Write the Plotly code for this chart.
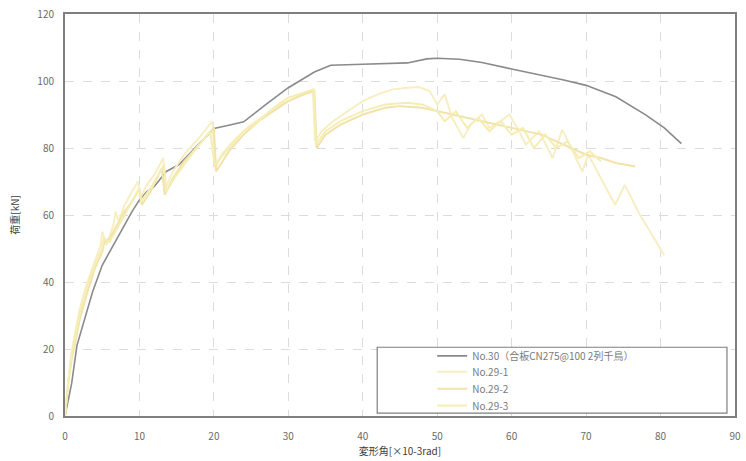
import plotly.graph_objects as go

# ---- data ----
x_no30 = [0, 0.9, 1.6, 2.6, 3.7, 5.0, 6.0, 6.7, 8.0, 9.0, 10.0, 11.0, 12.0, 13.6, 15.3, 17.0, 20.0, 22.0, 24.0,
          27.0, 30.0, 33.5, 35.7, 40.0, 46.0, 48.6, 50.0, 53.0, 56.0, 60.0, 64.0, 67.0, 70.0, 74.0, 78.0, 80.5, 82.8]
y_no30 = [0, 9.8, 21, 29, 37, 45, 49, 52, 57, 61, 64.5, 67, 68.5, 73, 75, 79, 85.8, 86.8, 87.8,
          93, 98, 102.7, 104.7, 105.0, 105.4, 106.6, 106.8, 106.5, 105.5, 103.6, 101.8, 100.3, 98.7, 95.3, 89.9, 86.0, 81.3]

x_29_1 = [0, 0.3, 0.7, 1.2, 2, 3, 4, 4.8, 5.0, 5.6, 6.5, 6.8, 7.2, 8, 9, 9.8, 10.1, 11, 12, 13.2, 13.5, 14.5, 16, 18,
          19.8, 20.2, 21, 23, 25, 27, 29, 31, 33.3, 33.6, 34.5, 36, 38, 40, 42, 44, 46, 47.5, 49, 50, 51, 52, 53.5,
          54.5, 56, 57, 58.5, 59.7, 61, 61.9, 63.7, 65.5, 66.8, 68, 69.5, 70.3, 72, 73.9, 75.2, 77, 80.5]
y_29_1 = [0, 8, 16, 23, 32, 40, 46, 51, 55, 51, 57, 61, 58, 63, 67, 70, 65, 69, 72, 77, 68, 73, 78, 83,
          88, 74, 78, 83, 87, 90, 93, 95, 97, 82, 85, 88, 91, 94, 96, 97.5, 98, 98.2, 97, 93, 96, 89, 83,
          87, 90, 86, 88, 90, 85, 81, 85, 77, 85.5, 80, 73, 78, 71, 63, 69, 61, 48]

x_29_2 = [0, 0.5, 1, 2, 3, 4, 5, 5.3, 6, 7, 8, 9, 10, 10.3, 11.5, 13, 13.4, 14.5, 16, 18, 20, 20.3, 22, 24, 26,
          28, 30, 32, 33.5, 33.8, 35, 37, 40, 43, 45, 48, 50, 52, 54, 56, 58, 60, 62, 64, 66, 68, 70, 72, 74, 76.6]
y_29_2 = [0, 11, 18, 29, 37, 44, 49, 52, 53, 57, 61, 64, 68, 63, 67, 74, 66, 71, 76, 81, 86, 73, 79, 84, 88,
          91, 94, 96, 97, 80, 84, 87, 90, 92, 92.5, 92, 91, 90, 89, 88, 87, 86, 85, 84, 82, 80, 78, 77, 75.5, 74.5]

x_29_3 = [0, 0.4, 1, 2, 3, 4, 5, 5.2, 6, 7, 8, 9, 10, 10.2, 11.5, 13.3, 13.6, 15, 17, 19.5, 20.1, 22, 24, 26,
          28, 30, 32, 33.4, 33.7, 35, 37, 40, 43, 46, 48, 50, 51, 52.5, 54, 55.5, 57, 58.5, 60, 61.5, 63, 64.5,
          66, 67.5, 69, 70.5, 72]
y_29_3 = [0, 10, 20, 31, 39, 45, 50, 53, 52, 56, 60, 64, 68, 64, 68, 75, 67, 72, 78, 85, 75, 80, 85, 88,
          92, 95, 96.5, 97.5, 81, 85, 88, 91, 93, 93.5, 93, 91, 88, 91, 86, 89, 85, 88, 84, 86, 80, 84,
          80, 82, 77, 79, 76]

x_ticks = [0, 10, 20, 30, 40, 50, 60, 70, 80, 90]
y_ticks = [0, 20, 40, 60, 80, 100, 120]

x_title = "変形角[×10-3rad]"
y_title = "荷重[kN]"
names = ["No.30（合板CN275@100 2列千鳥）", "No.29-1", "No.29-2", "No.29-3"]

FONT = "Noto Sans CJK JP, Noto Sans, sans-serif"

fig = go.Figure()
fig.add_trace(go.Scatter(x=x_no30, y=y_no30, mode="lines", name=names[0], legend="legend",
                         line=dict(color="#8a8a8a", width=1.6)))
fig.add_trace(go.Scatter(x=x_29_1, y=y_29_1, mode="lines", name=names[1], legend="legend2",
                         line=dict(color="#f7eec4", width=2)))
fig.add_trace(go.Scatter(x=x_29_2, y=y_29_2, mode="lines", name=names[2], legend="legend3",
                         line=dict(color="#f3e2aa", width=2)))
fig.add_trace(go.Scatter(x=x_29_3, y=y_29_3, mode="lines", name=names[3], legend="legend4",
                         line=dict(color="#f5eeb2", width=2)))

axis_common = dict(
    showgrid=True, gridcolor="#dcdcdc", griddash="dash", gridwidth=1,
    showline=True, linecolor="#7f7f7f", linewidth=2, mirror=True,
    zeroline=False, ticks="",
    tickfont=dict(family=FONT, size=10, color="#6a6a6a"),
)

def leg(ytop):
    return dict(x=0.548, y=ytop, xanchor="left", yanchor="top",
                bgcolor="rgba(0,0,0,0)", borderwidth=0,
                font=dict(family=FONT, size=10, color="#7a7a7a"))

fig.update_layout(
    width=746, height=461,
    margin=dict(l=65, r=5, t=12, b=45),
    paper_bgcolor="white", plot_bgcolor="white",
    font=dict(family=FONT, color="#595959"),
    xaxis=dict(range=[0, 90], tickvals=x_ticks, ticklabelstandoff=10, **axis_common,
               title=dict(text=x_title, font=dict(family=FONT, size=10, color="#404040"), standoff=2)),
    yaxis=dict(range=[0, 120], tickvals=y_ticks, ticklabelstandoff=7, **axis_common,
               title=dict(text=y_title, font=dict(family=FONT, size=10, color="#404040"), standoff=16)),
    showlegend=True,
    legend=leg(0.1856),
    legend2=leg(0.1460),
    legend3=leg(0.1040),
    legend4=leg(0.0619),
    shapes=[dict(type="rect", xref="paper", yref="paper",
                 x0=0.466, x1=0.988, y0=0.0074, y1=0.171,
                 line=dict(color="#7f7f7f", width=1.2), fillcolor="white", layer="above")],
)

fig.write_html("out.html")
